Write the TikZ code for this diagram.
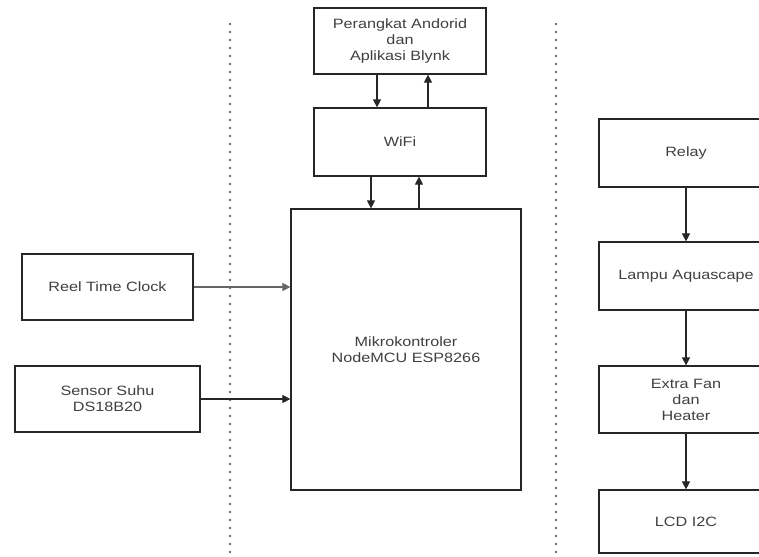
\documentclass[tikz,border=0pt]{standalone}
\usepackage{fontspec}
\setmainfont{Liberation Sans}
\newfontfamily\widefont[FakeStretch=1.2]{Liberation Sans}
\usetikzlibrary{arrows.meta}
\begin{document}
\begin{tikzpicture}[x=1pt,y=-1pt,
  box/.style={draw=black!85, line width=1.2pt, fill=white, inner sep=0pt, align=center,
    text=black!75, font=\widefont\fontsize{13.5}{16}\selectfont},
  arr/.style={draw=black!85, line width=1.1pt, -{Triangle[length=8pt,width=8pt]}},
  sep/.style={draw=black!75, line width=2.2pt, line cap=round, dash pattern=on 0pt off 8pt}]
\clip (0,0) rectangle (759,556);
\fill[white] (0,0) rectangle (759,556);
% separators
\draw[sep] (230,24) -- (230,556);
\draw[sep] (556,24) -- (556,556);
% boxes
\node[box, minimum width=172pt, minimum height=66pt] (pa) at (400,41) {Perangkat Andorid\\dan\\Aplikasi Blynk};
\node[box, minimum width=172pt, minimum height=68pt] (wifi) at (400,142) {WiFi};
\node[box, minimum width=230pt, minimum height=281pt] (mcu) at (406,349.5) {Mikrokontroler\\NodeMCU ESP8266};
\node[box, minimum width=171pt, minimum height=66pt] (rtc) at (107.5,287) {Reel Time Clock};
\node[box, minimum width=185pt, minimum height=66pt] (suhu) at (107.5,399) {Sensor Suhu\\DS18B20};
\node[box, minimum width=174pt, minimum height=68pt] (relay) at (686,153) {Relay};
\node[box, minimum width=174pt, minimum height=68pt] (lampu) at (686,276) {Lampu Aquascape};
\node[box, minimum width=174pt, minimum height=67pt] (fan) at (686,399.5) {Extra Fan\\dan\\Heater};
\node[box, minimum width=174pt, minimum height=63pt] (lcd) at (686,521.5) {LCD I2C};
% connector x positions
\coordinate (xa) at (377,0);
\coordinate (xb) at (428,0);
\coordinate (xc) at (371,0);
\coordinate (xd) at (419,0);
% arrows
\draw[arr] (pa.south -| xa) -- (wifi.north -| xa);
\draw[arr] (wifi.north -| xb) -- (pa.south -| xb);
\draw[arr] (wifi.south -| xc) -- (mcu.north -| xc);
\draw[arr] (mcu.north -| xd) -- (wifi.south -| xd);
\draw[arr, draw=black!60] (rtc.east) -- (rtc.east -| mcu.west);
\draw[arr] (suhu.east) -- (suhu.east -| mcu.west);
\draw[arr] (relay.south) -- (lampu.north);
\draw[arr] (lampu.south) -- (fan.north);
\draw[arr] (fan.south) -- (lcd.north);
\end{tikzpicture}
\end{document}
